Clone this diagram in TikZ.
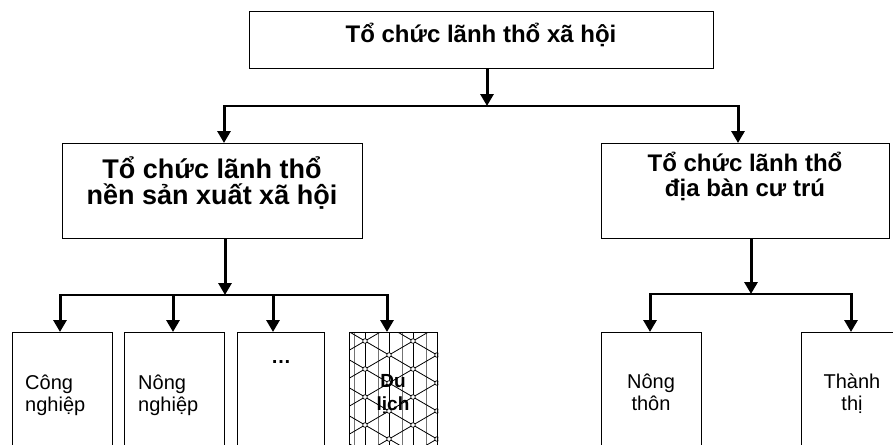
\documentclass[tikz,border=0pt]{standalone}
\usepackage{fontspec}
\setmainfont{Liberation Sans}
\usetikzlibrary{arrows.meta}

\tikzset{
  box/.style={draw, line width=1.3pt, anchor=north west, inner sep=0pt},
  shaft/.style={line width=3pt, shorten <=-0.65pt, -{Triangle[width=13pt,length=12pt]}},
  bus/.style={line width=1.3pt},
  txt/.style={inner sep=0pt, anchor=base},
  headbig/.style={txt, align=center, font=\bfseries\fontsize{27}{26}\selectfont},
  head/.style={txt, align=center, font=\bfseries\fontsize{24}{25}\selectfont},
  leaf/.style={txt, font=\fontsize{20}{22}\selectfont},
  leafbold/.style={txt, align=center, font=\bfseries\fontsize{19}{23}\selectfont},
  hatchline/.style={line width=0.8pt},
  hatchthin/.style={line width=0.5pt, black!55},
  knot/.style={draw, fill=white, line width=0.7pt}
}

\begin{document}
\begin{tikzpicture}[x=1pt, y=-1pt]
\useasboundingbox (0,0) rectangle (893,444);
\clip (0,0) rectangle (893,444);

% --- boxes ---
\node[box, minimum width=464pt, minimum height=57pt] (root) at (249,11) {};
\node[box, minimum width=300pt, minimum height=95pt] (prod) at (62,143) {};
\node[box, minimum width=288pt, minimum height=95pt] (res)  at (601,143) {};

\node[box, minimum width=100pt, minimum height=130pt] (b1) at (12,332) {};
\node[box, minimum width=100pt, minimum height=130pt] (b2) at (124,332) {};
\node[box, minimum width=87pt,  minimum height=130pt] (b3) at (237,332) {};
\node[box, minimum width=88pt,  minimum height=130pt] (b4) at (349,332) {};

\node[box, minimum width=100pt, minimum height=130pt] (r1) at (601,332) {};
\node[box, minimum width=100pt, minimum height=130pt] (r2) at (801,332) {};

% --- hatching of the tourism box ---
\begin{scope}
  \clip (b4.north west) rectangle (b4.south east);
  \fill[white] (b4.north west) rectangle (b4.south east);
  \foreach \x in {354,378,402,426} \draw[hatchthin] (\x,320) -- (\x,460);
  \foreach \x in {365,389,413} \draw[hatchline] (\x,320) -- (\x,460);
  \foreach \k in {-8,...,8} {
    \draw[hatchline] (340,{355+28*\k-49*14/24}) -- (440,{355+28*\k+51*14/24});
    \draw[hatchline] (340,{355+28*\k+49*14/24}) -- (440,{355+28*\k-51*14/24});
  }
  \foreach \m in {-5,...,5} \foreach \n in {-5,...,5}
    \draw[knot] ({389+24*(\m+\n)},{355+14*(\m-\n)}) circle (2.3pt);
\end{scope}
\node[box, minimum width=88pt, minimum height=130pt] (b4frame) at (349,332) {};

% --- texts (multi-line nodes sit on the baseline of their last line) ---
\node[head] (roottxt) at (481,42) {Tổ chức lãnh thổ xã hội};
\node[headbig] (prodtxt) at (212,204) {Tổ chức lãnh thổ\\nền sản xuất xã hội};
\node[head] (restxt) at (745,196) {Tổ chức lãnh thổ\\địa bàn cư trú};

\node[leaf, anchor=base west, align=left] (b1txt) at (25,411) {Công\\nghiệp};
\node[leaf, anchor=base west, align=left] (b2txt) at (138,411) {Nông\\nghiệp};
\node[txt, font=\bfseries\fontsize{20}{22}\selectfont] (b3txt) at (281,363) {…};
\node[leafbold] (b4txt) at (393,410) {Du\\lịch};

\node[leaf, align=center] (r1txt) at (651,410) {Nông\\thôn};
\node[leaf, align=center] (r2txt) at (852,410) {Thành\\thị};

% --- connectors: level 1 ---
\coordinate (busA)  at (487,106);
\coordinate (busAL) at (224,106);
\coordinate (busAR) at (738,106);
\draw[shaft] (busA |- root.south) -- (busA);
\draw[bus] (busAL) -- (busAR);
\draw[shaft] (busAL) -- (busAL |- prod.north);
\draw[shaft] (busAR) -- (busAR |- res.north);

% --- connectors: production branch ---
\coordinate (busB)  at (225,295);
\coordinate (busB1) at (60,295);
\coordinate (busB2) at (173,295);
\coordinate (busB3) at (273,295);
\coordinate (busB4) at (387,295);
\draw[shaft] (busB |- prod.south) -- (busB);
\draw[bus] (busB1) -- (busB4);
\draw[shaft] (busB1) -- (busB1 |- b1.north);
\draw[shaft] (busB2) -- (busB2 |- b2.north);
\draw[shaft] (busB3) -- (busB3 |- b3.north);
\draw[shaft] (busB4) -- (busB4 |- b4.north);

% --- connectors: settlement branch ---
\coordinate (busC)  at (751,294);
\coordinate (busC1) at (650,294);
\coordinate (busC2) at (851,294);
\draw[shaft] (busC |- res.south) -- (busC);
\draw[bus] (busC1) -- (busC2);
\draw[shaft] (busC1) -- (busC1 |- r1.north);
\draw[shaft] (busC2) -- (busC2 |- r2.north);
\end{tikzpicture}
\end{document}
